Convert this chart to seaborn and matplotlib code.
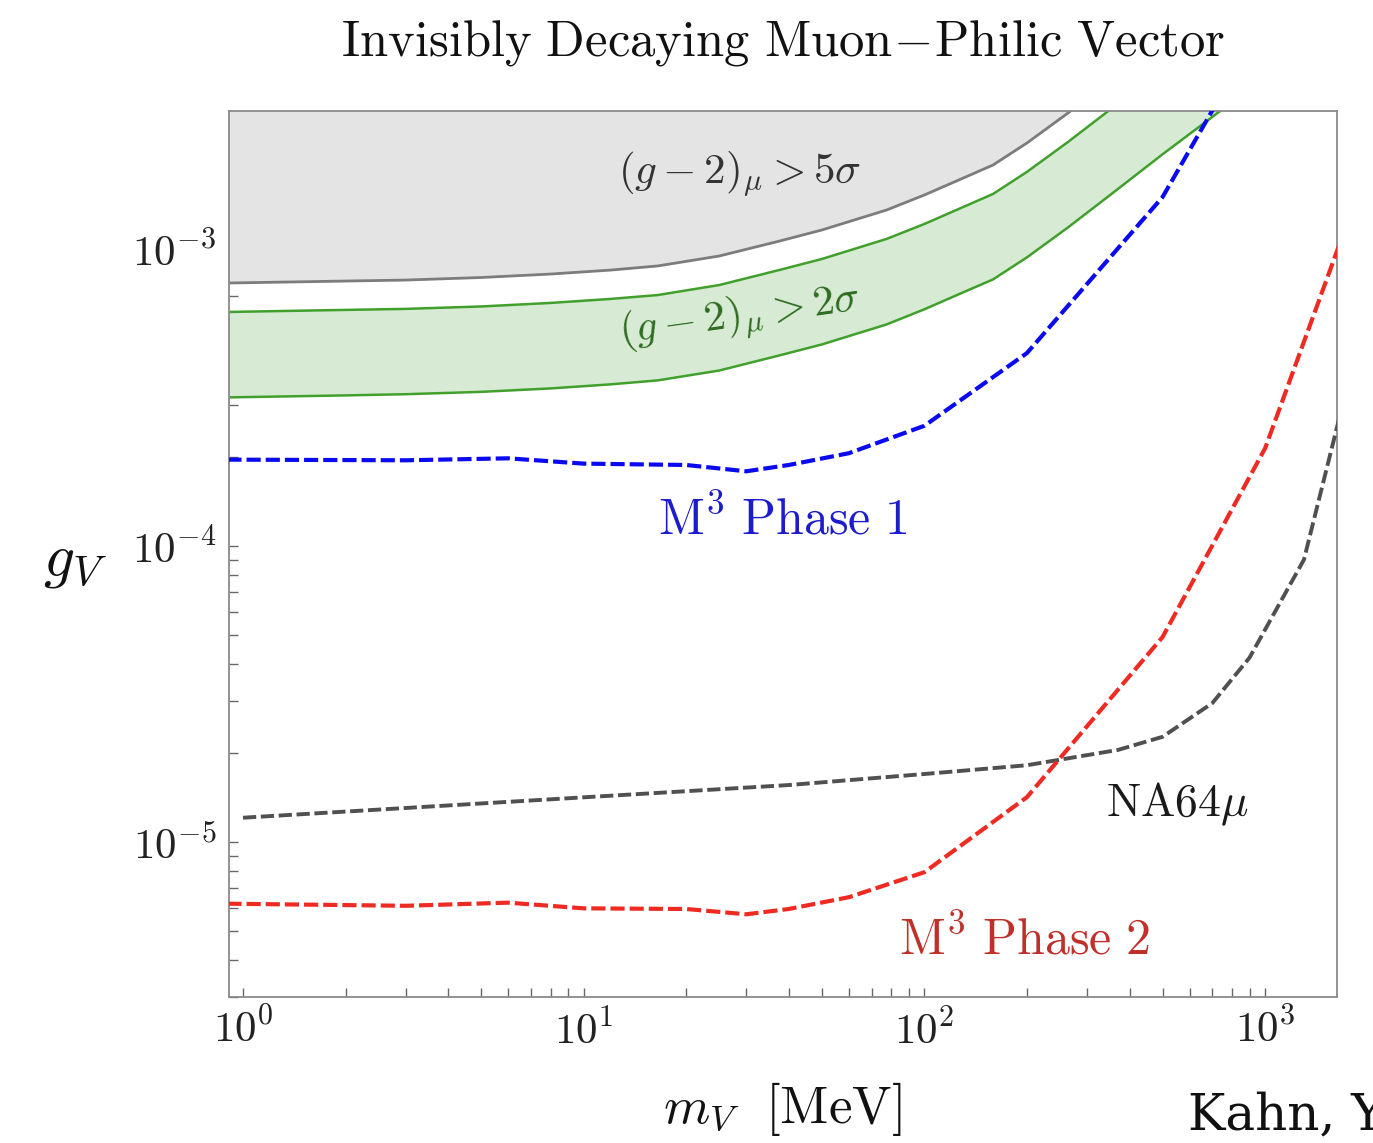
import numpy as np
import pandas as pd
import matplotlib
matplotlib.use("Agg")
import matplotlib.pyplot as plt
import matplotlib.ticker as mticker
import seaborn as sns

# ---------------- data ----------------
g2_mass = [0.9, 2, 3, 5, 8, 12, 16.5, 25, 37.6, 50, 77.5, 100, 130, 159, 200,
           264, 353, 500, 763, 1000]
g2_5sigma = [7.74e-4, 7.86e-4, 7.92e-4, 8.08e-4, 8.30e-4, 8.56e-4, 8.84e-4,
             9.55e-4, 1.073e-3, 1.169e-3, 1.366e-3, 1.535e-3, 1.751e-3,
             1.938e-3, 2.300e-3, 2.904e-3, 3.755e-3, 5.13e-3, 7.39e-3, 9.55e-3]
g2_2sigma_hi = [6.18e-4, 6.28e-4, 6.33e-4, 6.45e-4, 6.63e-4, 6.84e-4, 7.05e-4,
                7.62e-4, 8.57e-4, 9.33e-4, 1.091e-3, 1.225e-3, 1.398e-3,
                1.547e-3, 1.837e-3, 2.319e-3, 2.998e-3, 4.09e-3, 5.90e-3, 7.63e-3]
g2_2sigma_lo = [3.18e-4, 3.23e-4, 3.26e-4, 3.32e-4, 3.41e-4, 3.52e-4, 3.63e-4,
                3.92e-4, 4.41e-4, 4.80e-4, 5.61e-4, 6.31e-4, 7.20e-4, 7.96e-4,
                9.45e-4, 1.193e-3, 1.543e-3, 2.106e-3, 3.035e-3, 3.92e-3]

phase1_mass = [0.9, 3, 6, 10, 20, 30, 40, 60, 100, 200, 500, 750]
phase1_g = [1.96e-4, 1.95e-4, 1.98e-4, 1.90e-4, 1.88e-4, 1.79e-4, 1.88e-4,
            2.06e-4, 2.55e-4, 4.49e-4, 1.51e-3, 3.4e-3]

phase2_mass = [0.9, 3, 6, 10, 20, 30, 40, 60, 100, 200, 500, 1000, 1650]
phase2_g = [6.2e-6, 6.1e-6, 6.25e-6, 5.98e-6, 5.95e-6, 5.71e-6, 5.95e-6,
            6.52e-6, 7.92e-6, 1.42e-5, 4.93e-5, 2.14e-4, 1.04e-3]

na64_mass = [1, 40, 100, 200, 370, 500, 700, 900, 1300, 1650]
na64_g = [1.21e-5, 1.56e-5, 1.70e-5, 1.82e-5, 2.05e-5, 2.27e-5, 2.95e-5,
          4.2e-5, 9.0e-5, 2.7e-4]

x_limits = (0.91, 1626)
y_limits = (3.0e-6, 2.95e-3)

# ---------------- style ----------------
sns.set_theme(style="white")
plt.rcParams["mathtext.fontset"] = "cm"
plt.rcParams["font.family"] = ["DejaVu Serif", "DejaVu Sans"]

fig = plt.figure(figsize=(13.73, 11.43), dpi=100)
ax = fig.add_axes([0.1668, 0.1277, 0.8070, 0.7752])
ax.set_xscale("log")
ax.set_yscale("log")

# (g-2) regions
ax.fill_between(g2_mass, g2_5sigma, 1.0, color="#e4e4e4", lw=0, zorder=1)
ax.fill_between(g2_mass, g2_2sigma_lo, g2_2sigma_hi, color="#d7ebd4", lw=0, zorder=1)

df_g2 = pd.DataFrame({"m": g2_mass, "g5": g2_5sigma,
                      "ghi": g2_2sigma_hi, "glo": g2_2sigma_lo})
sns.lineplot(data=df_g2, x="m", y="g5", ax=ax, color="#7c7c7c", lw=2.0,
             sort=False, estimator=None, zorder=2)
sns.lineplot(data=df_g2, x="m", y="ghi", ax=ax, color="#41a02c", lw=1.8,
             sort=False, estimator=None, zorder=2)
sns.lineplot(data=df_g2, x="m", y="glo", ax=ax, color="#41a02c", lw=1.8,
             sort=False, estimator=None, zorder=2)

dash = (0, (3.4, 1.2))
sns.lineplot(x=na64_mass, y=na64_g, ax=ax, color="#505050", lw=2.8,
             linestyle=dash, sort=False, estimator=None, zorder=3)
sns.lineplot(x=phase2_mass, y=phase2_g, ax=ax, color="#ee2b22", lw=3.0,
             linestyle=dash, sort=False, estimator=None, zorder=4)
sns.lineplot(x=phase1_mass, y=phase1_g, ax=ax, color="#0a0af0", lw=3.0,
             linestyle=dash, sort=False, estimator=None, zorder=4)

ax.set_xlim(*x_limits)
ax.set_ylim(*y_limits)

# ticks
fmt = mticker.FuncFormatter(lambda v, p: r"$10^{%d}$" % int(round(np.log10(v))))
for axis in (ax.xaxis, ax.yaxis):
    axis.set_major_locator(mticker.LogLocator(base=10, numticks=20))
    axis.set_minor_locator(mticker.LogLocator(base=10, subs=np.arange(2, 10), numticks=20))
    axis.set_major_formatter(fmt)
    axis.set_minor_formatter(mticker.NullFormatter())
ax.tick_params(which="both", direction="in", length=6.5, width=1.0, color="#666666",
               top=False, right=False, left=True, bottom=True)
ax.tick_params(axis="y", which="major", labelsize=31, pad=9, labelcolor="#222222")
ax.tick_params(axis="x", which="major", labelsize=31, pad=9, labelcolor="#222222")
for s in ax.spines.values():
    s.set_color("#8a8a8a")
    s.set_linewidth(1.3)
ax.set_xlabel("")
ax.set_ylabel("")

# annotations
ax.text(0.461, 0.928, r"$(g-2)_{\mu} > 5\sigma$", transform=ax.transAxes,
        ha="center", va="center", fontsize=31, color="#333333", zorder=5)
ax.text(0.461, 0.767, r"$(g-2)_{\mu} > 2\sigma$", transform=ax.transAxes,
        ha="center", va="center", fontsize=31, color="#2e6b20", rotation=8,
        rotation_mode="anchor", zorder=5)
ax.text(0.500, 0.538, r"$\mathrm{M}^{3}\ \mathrm{Phase\ 1}$", transform=ax.transAxes,
        ha="center", va="center", fontsize=36, color="#1c1ccc", zorder=5)
ax.text(0.718, 0.064, r"$\mathrm{M}^{3}\ \mathrm{Phase\ 2}$", transform=ax.transAxes,
        ha="center", va="center", fontsize=36, color="#c0302a", zorder=5)
ax.text(0.856, 0.217, r"$\mathrm{NA64}\mu$", transform=ax.transAxes,
        ha="center", va="center", fontsize=33, color="#1a1a1a", zorder=5)

fig.text(0.570, 0.962, r"$\mathrm{Invisibly\ Decaying\ Muon\!-\!Philic\ Vector}$",
         ha="center", va="center", fontsize=36.5, color="#111111")
fig.text(0.055, 0.510, r"$g_V$", ha="center", va="center", fontsize=44, color="#111111")
fig.text(0.570, 0.030, r"$m_V\ \ [\mathrm{MeV}]$", ha="center", va="center",
         fontsize=38, color="#111111")
fig.text(0.865, 0.012, "Kahn, Y", ha="left", va="baseline", fontsize=36,
         color="#111111", family=["DejaVu Serif"])

fig.savefig("out.png", dpi=100)
